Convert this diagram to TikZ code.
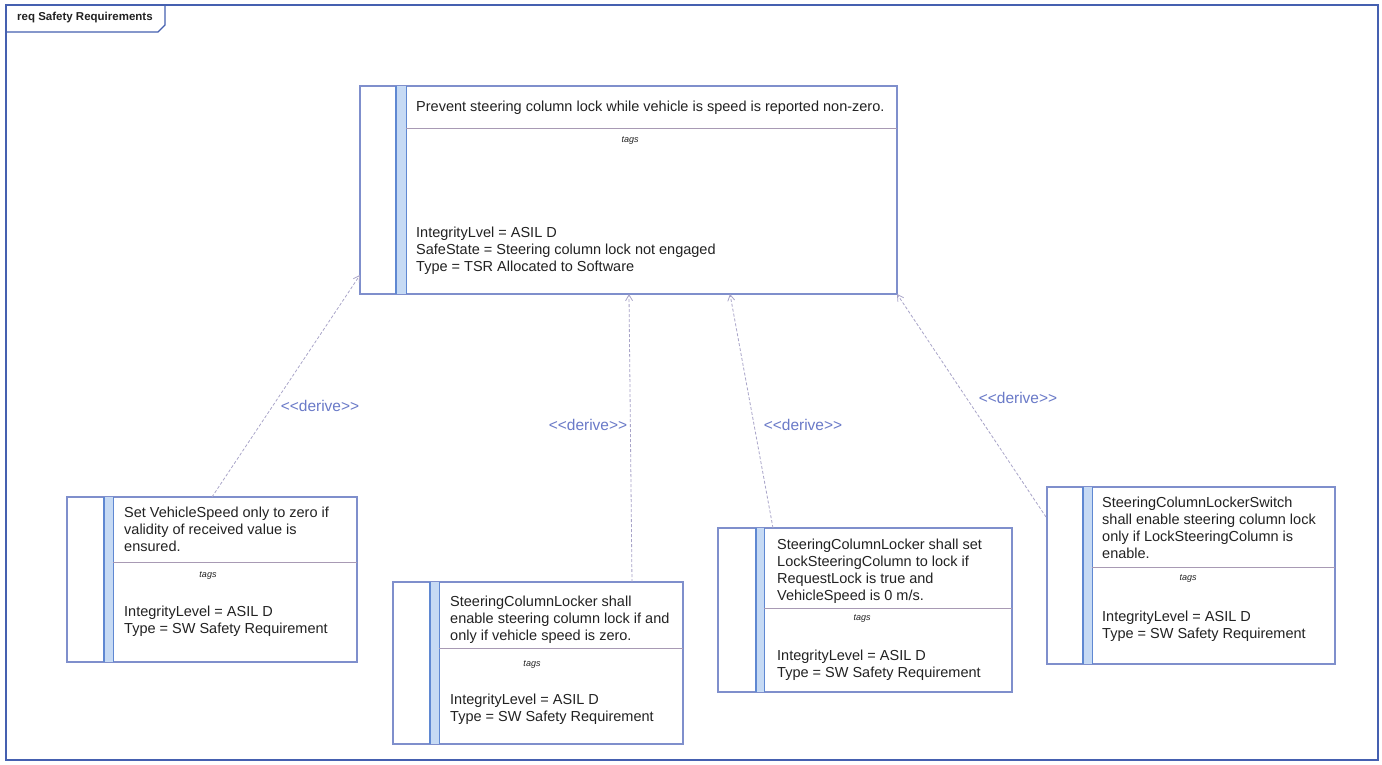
\documentclass[tikz,border=0pt]{standalone}
\usepackage{fontspec}
\setmainfont{Liberation Sans}
\usetikzlibrary{arrows.meta}

\definecolor{framecol}{HTML}{4560B0}
\definecolor{boxcol}{HTML}{7F8FCC}
\definecolor{barfill}{HTML}{C6DAF4}
\definecolor{barline}{HTML}{5F88D2}
\definecolor{divcol}{HTML}{A89AB4}
\definecolor{linkcol}{HTML}{A8A4C8}
\definecolor{labelcol}{HTML}{6A7AC8}
\definecolor{textcol}{HTML}{222222}

\tikzset{
  reqbox/.style={draw=boxcol, line width=1.1pt, fill=white, anchor=north west,
    inner sep=0pt, outer sep=0pt},
  barband/.style={fill=barfill},
  barrule/.style={draw=barline, line width=1pt},
  barruleheavy/.style={draw=barline, line width=2pt},
  divider/.style={draw=divcol, line width=0.8pt},
  body/.style={anchor=north west, inner sep=0pt, align=left, text=textcol,
    font=\fontsize{14.5}{16.8}\selectfont},
  tagword/.style={inner sep=0pt, text=textcol, font=\fontsize{9}{10}\itshape},
  derive/.style={draw=linkcol, line width=0.8pt, dash pattern=on 3pt off 2pt,
    -{Straight Barb[length=6pt,width=7pt,line width=0.8pt]}},
  derivelabel/.style={inner sep=0pt, text=labelcol, font=\fontsize{15.5}{17}\selectfont},
}

\begin{document}
\begin{tikzpicture}[x=1pt,y=-1pt]
\useasboundingbox (0,0) rectangle (1382,764);
\fill[white] (0,0) rectangle (1382,764);

% diagram frame with its name tab
\draw[framecol, line width=1.3pt] (6,5) rectangle (1378,760);
\draw[framecol, line width=1.3pt] (6,32) -- (158,32) -- (165,25) -- (165,5);
\node[inner sep=0pt, anchor=west, font=\fontsize{11.5}{12}\bfseries, text=textcol] (title) at (17,18) {req Safety Requirements};

% ---------- technical safety requirement ----------
\node[reqbox, minimum width=537, minimum height=208] (top) at (360,86) {};
\fill[barband] ([xshift=36]top.north west) rectangle ([xshift=46]top.south west);
\draw[barruleheavy] ([xshift=36]top.north west) -- ([xshift=36]top.south west);
\draw[barrule] ([xshift=46]top.north west) -- ([xshift=46]top.south west);
\draw[divider] ([xshift=46,yshift=-42]top.north west) -- ([yshift=-42]top.north east);
\node[body] (toptxt) at (416,101) {Prevent steering column lock while vehicle is speed is reported non-zero.};
\node[tagword] (toptags) at (630,141) {tags};
\node[body] (topval) at (416,227) {IntegrityLvel = ASIL D\\SafeState = Steering column lock not engaged\\Type = TSR Allocated to Software};

% ---------- software safety requirement 1 ----------
\node[reqbox, minimum width=290, minimum height=165] (r1) at (67,497) {};
\fill[barband] ([xshift=37]r1.north west) rectangle ([xshift=46]r1.south west);
\draw[barruleheavy] ([xshift=37]r1.north west) -- ([xshift=37]r1.south west);
\draw[barrule] ([xshift=46]r1.north west) -- ([xshift=46]r1.south west);
\draw[divider] ([xshift=46,yshift=-65]r1.north west) -- ([yshift=-65]r1.north east);
\node[body] (r1txt) at (124,507) {Set VehicleSpeed only to zero if\\validity of received value is\\ensured.};
\node[tagword] (r1tags) at (208,576) {tags};
\node[body] (r1val) at (124,606) {IntegrityLevel = ASIL D\\Type = SW Safety Requirement};

% ---------- software safety requirement 2 ----------
\node[reqbox, minimum width=290, minimum height=162] (r2) at (393,582) {};
\fill[barband] ([xshift=37]r2.north west) rectangle ([xshift=46]r2.south west);
\draw[barruleheavy] ([xshift=37]r2.north west) -- ([xshift=37]r2.south west);
\draw[barrule] ([xshift=46]r2.north west) -- ([xshift=46]r2.south west);
\draw[divider] ([xshift=46,yshift=-66]r2.north west) -- ([yshift=-66]r2.north east);
\node[body] (r2txt) at (450,596) {SteeringColumnLocker shall\\enable steering column lock if and\\only if vehicle speed is zero.};
\node[tagword] (r2tags) at (532,665) {tags};
\node[body] (r2val) at (450,694) {IntegrityLevel = ASIL D\\Type = SW Safety Requirement};

% ---------- software safety requirement 3 ----------
\node[reqbox, minimum width=294, minimum height=164] (r3) at (718,528) {};
\fill[barband] ([xshift=38]r3.north west) rectangle ([xshift=46]r3.south west);
\draw[barruleheavy] ([xshift=38]r3.north west) -- ([xshift=38]r3.south west);
\draw[barrule] ([xshift=46]r3.north west) -- ([xshift=46]r3.south west);
\draw[divider] ([xshift=46,yshift=-80]r3.north west) -- ([yshift=-80]r3.north east);
\node[body] (r3txt) at (777,539) {SteeringColumnLocker shall set\\LockSteeringColumn to lock if\\RequestLock is true and\\VehicleSpeed is 0 m/s.};
\node[tagword] (r3tags) at (862,619) {tags};
\node[body] (r3val) at (777,650) {IntegrityLevel = ASIL D\\Type = SW Safety Requirement};

% ---------- software safety requirement 4 ----------
\node[reqbox, minimum width=288, minimum height=177] (r4) at (1047,487) {};
\fill[barband] ([xshift=36]r4.north west) rectangle ([xshift=45]r4.south west);
\draw[barruleheavy] ([xshift=36]r4.north west) -- ([xshift=36]r4.south west);
\draw[barrule] ([xshift=45]r4.north west) -- ([xshift=45]r4.south west);
\draw[divider] ([xshift=45,yshift=-80]r4.north west) -- ([yshift=-80]r4.north east);
\node[body] (r4txt) at (1102,497) {SteeringColumnLockerSwitch\\shall enable steering column lock\\only if LockSteeringColumn is\\enable.};
\node[tagword] (r4tags) at (1188,579) {tags};
\node[body] (r4val) at (1102,611) {IntegrityLevel = ASIL D\\Type = SW Safety Requirement};

% ---------- derive relations ----------
\coordinate (s2) at (632,582);
\coordinate (s3) at (773,528);
\coordinate (s4) at (1046,517);
\coordinate (t1) at (360,275);
\coordinate (t2) at (629,294);
\coordinate (t3) at (730,294);

\draw[derive] (r1.north) -- (t1);
\draw[derive] (s2) -- (t2);
\draw[derive] (s3) -- (t3);
\draw[derive] (s4) -- (top.south east);

\node[derivelabel] (d1) at (320,406) {<{}<derive>{}>};
\node[derivelabel] (d2) at (588,425) {<{}<derive>{}>};
\node[derivelabel] (d3) at (803,425) {<{}<derive>{}>};
\node[derivelabel] (d4) at (1018,398) {<{}<derive>{}>};
\end{tikzpicture}
\end{document}
